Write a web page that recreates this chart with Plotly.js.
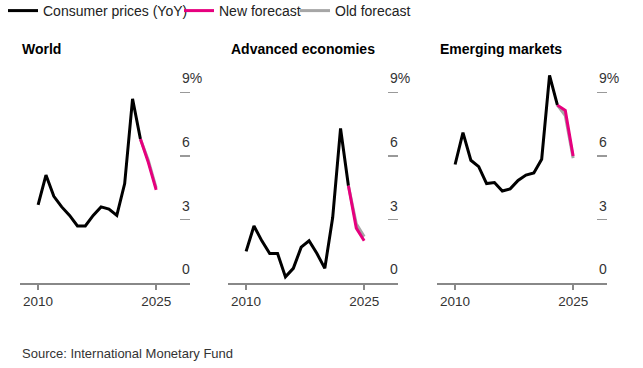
<!DOCTYPE html>
<html>
<head>
<meta charset="utf-8">
<script src="https://cdn.plot.ly/plotly-3.0.1.min.js"></script>
<style>html,body{margin:0;padding:0;background:#fff;overflow:hidden;}#chart{width:643px;height:373px;margin-top:-5px;}</style>
</head>
<body>
<div id="chart"></div>
<script>
const years = [2010, 2011, 2012, 2013, 2014, 2015, 2016, 2017, 2018, 2019, 2020, 2021, 2022, 2023, 2024, 2025];
const actualYears = [2010, 2011, 2012, 2013, 2014, 2015, 2016, 2017, 2018, 2019, 2020, 2021, 2022, 2023];
const forecastYears = [2023, 2024, 2025];

const panelTitles = ["World", "Advanced economies", "Emerging markets"];

const worldActual = [3.7, 5.1, 4.1, 3.6, 3.2, 2.7, 2.7, 3.2, 3.6, 3.5, 3.2, 4.7, 8.7, 6.8];
const worldNew = [6.8, 5.7, 4.4];
const worldOld = [6.8, 5.8, 4.5];

const advActual = [1.5, 2.7, 2.0, 1.4, 1.4, 0.3, 0.7, 1.7, 2.0, 1.4, 0.7, 3.1, 7.3, 4.6];
const advNew = [4.6, 2.6, 2.0];
const advOld = [4.6, 2.8, 2.2];

const emActual = [5.6, 7.1, 5.8, 5.5, 4.7, 4.75, 4.35, 4.45, 4.85, 5.1, 5.2, 5.85, 9.8, 8.4];
const emNew = [8.4, 8.15, 6.0];
const emOld = [8.4, 7.9, 5.9];

const yTickVals = [0, 3, 6, 9];
const yTickText = ["0", "3", "6", "9%"];
const xTickVals = [2010, 2025];
const xTickText = ["2010", "2025"];

const seriesNames = ["Consumer prices (YoY)", "New forecast", "Old forecast"];
const colors = {actual: "#000000", neu: "#e6007e", old: "#a6a6a6"};

const panels = [
  {actual: worldActual, neu: worldNew, old: worldOld},
  {actual: advActual, neu: advNew, old: advOld},
  {actual: emActual, neu: emNew, old: emOld}
];

const W = 643, H = 368, TOPPAD = 5;
const xDomPx = [[20, 190], [228, 398], [437, 607]];
const yDom = [1 - 283 / H, 1 - 70.4 / H];
const titleX = [20, 229, 438];

const traces = [];
panels.forEach((p, i) => {
  const xa = i === 0 ? "x" : "x" + (i + 1);
  const ya = i === 0 ? "y" : "y" + (i + 1);
  traces.push({x: forecastYears, y: p.old, xaxis: xa, yaxis: ya, type: "scatter", mode: "lines",
    name: seriesNames[2], legend: "legend3", showlegend: i === 0,
    line: {color: colors.old, width: 3}});
  traces.push({x: actualYears, y: p.actual, xaxis: xa, yaxis: ya, type: "scatter", mode: "lines",
    name: seriesNames[0], legend: "legend", showlegend: i === 0,
    line: {color: colors.actual, width: 3}});
  traces.push({x: forecastYears, y: p.neu, xaxis: xa, yaxis: ya, type: "scatter", mode: "lines",
    name: seriesNames[1], legend: "legend2", showlegend: i === 0,
    line: {color: colors.neu, width: 3}});
});

const legendBase = {orientation: "h", y: 1 - 10.5 / H, xanchor: "left", yanchor: "middle",
  font: {size: 14, color: "#222"}, itemwidth: 30, bgcolor: "rgba(0,0,0,0)"};

const layout = {
  width: W, height: H + TOPPAD,
  margin: {l: 0, r: 0, t: TOPPAD, b: 0},
  paper_bgcolor: "#fff", plot_bgcolor: "#fff",
  font: {family: "Liberation Sans, Arial, sans-serif", color: "#333", size: 13},
  showlegend: true,
  legend: Object.assign({}, legendBase, {x: 3 / W}),
  legend2: Object.assign({}, legendBase, {x: 179 / W}),
  legend3: Object.assign({}, legendBase, {x: 295 / W}),
  annotations: [],
  hovermode: false
};

panels.forEach((p, i) => {
  const sfx = i === 0 ? "" : String(i + 1);
  const xa = "x" + sfx;
  const ya = "y" + sfx;
  layout["xaxis" + sfx] = {
    domain: [xDomPx[i][0] / W, xDomPx[i][1] / W],
    range: [2007.7, 2029.3], anchor: ya,
    tickvals: xTickVals, ticktext: xTickText,
    ticks: "outside", ticklen: 5, tickwidth: 1.5, tickcolor: "#888",
    showline: true, linecolor: "#888", linewidth: 2,
    showgrid: false, zeroline: false, fixedrange: true,
    tickfont: {size: 13.5, color: "#333"}
  };
  layout["yaxis" + sfx] = {
    domain: yDom, range: [0, 10], anchor: xa, side: "right",
    tickvals: yTickVals, ticktext: yTickText,
    ticks: "inside", ticklen: 10, tickwidth: 1.5, tickcolor: "#999",
    ticklabelstandoff: -9, ticklabelshift: -14,
    showline: false, showgrid: false, zeroline: false, fixedrange: true,
    tickfont: {size: 14, color: "#333"}
  };
  layout.annotations.push({
    text: "<b>" + panelTitles[i] + "</b>", xref: "paper", yref: "paper",
    x: titleX[i] / W, y: 1 - 48.5 / H, xanchor: "left", yanchor: "middle",
    showarrow: false, font: {size: 14, color: "#000"}
  });
});

layout.annotations.push({
  text: "Source: International Monetary Fund", xref: "paper", yref: "paper",
  x: 20 / W, y: 1 - 353 / H, xanchor: "left", yanchor: "middle",
  showarrow: false, font: {size: 13, color: "#333"}
});

Plotly.newPlot("chart", traces, layout, {staticPlot: true, displayModeBar: false});
</script>
</body>
</html>
